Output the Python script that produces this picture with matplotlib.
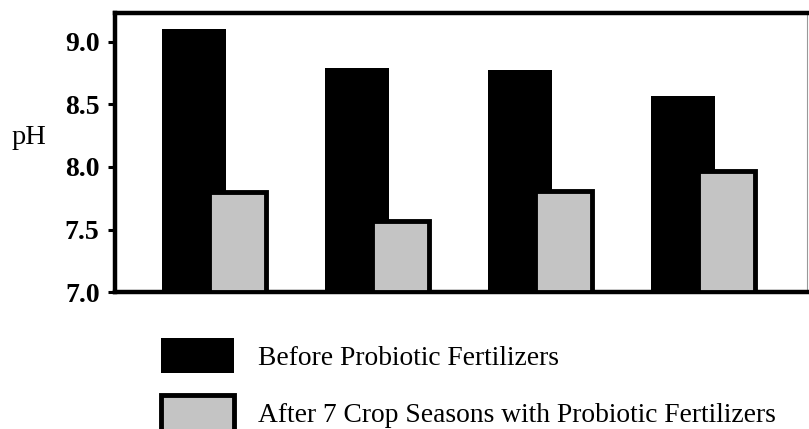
import numpy as np
import matplotlib.pyplot as plt

# pH values, four fields
before = [9.10, 8.79, 8.77, 8.57]
after = [7.80, 7.57, 7.81, 7.97]
labels = ['Before Probiotic Fertilizers',
          'After 7 Crop Seasons with Probiotic Fertilizers']
yticks = [7.0, 7.5, 8.0, 8.5, 9.0]

plt.rcParams['font.family'] = ['Liberation Serif', 'DejaVu Serif']

fig = plt.figure(figsize=(8.09, 4.29), dpi=100, facecolor='w')
ax = fig.add_axes([0.142, 0.319, 0.856, 0.651])

x = np.arange(len(before))
b1 = ax.bar(x - 0.135, [v - 7.0 for v in before], width=0.39, bottom=7.0,
            color='black', edgecolor='black', linewidth=0, zorder=2)
b2 = ax.bar(x + 0.135, [v - 7.0 for v in after], width=0.35, bottom=7.0,
            color='#c4c4c4', edgecolor='black', linewidth=3.5, zorder=3)

ax.set_xlim(-0.62, 3.63)
ax.set_ylim(7.0, 9.23)
ax.set_xticks([])
ax.set_yticks(yticks)
ax.set_yticklabels(['%.1f' % t for t in yticks], fontsize=20, fontweight='bold')
ax.tick_params(axis='y', direction='out', length=5, width=2.2, pad=6)

for s in ['left', 'top', 'bottom']:
    ax.spines[s].set_linewidth(3.2)
ax.spines['right'].set_linewidth(0.8)
ax.spines['right'].set_color('#999999')

fig.text(0.014, 1 - 138 / 429, 'pH', fontsize=20.5, va='center', ha='left')

fig.legend([b1, b2], labels, loc='upper left', bbox_to_anchor=(0.199, 0.212),
           frameon=False, fontsize=19.8, handlelength=2.66, handleheight=1.6,
           handletextpad=0.88, labelspacing=0.8, borderpad=0, borderaxespad=0)

fig.savefig('out.png', dpi=100)
